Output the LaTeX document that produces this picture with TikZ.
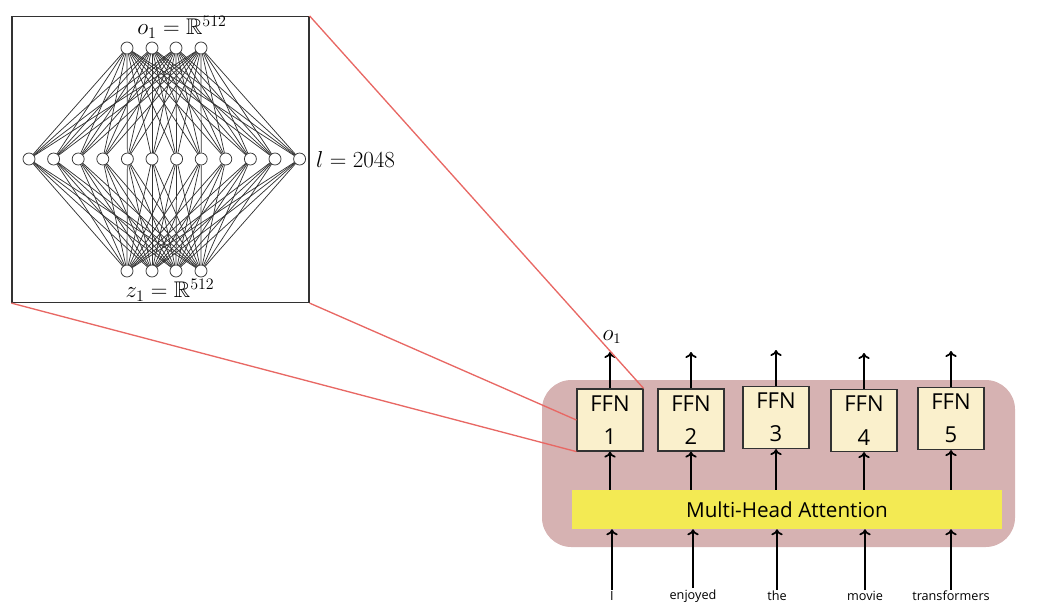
\documentclass[tikz,border=0pt]{standalone}
\usepackage{amssymb}
\usepackage{fontspec}
\setsansfont{Open Sans}
\usetikzlibrary{arrows.meta,positioning}
\definecolor{layerpink}{RGB}{214,178,178}
\definecolor{ffncream}{RGB}{250,240,204}
\definecolor{attnyellow}{RGB}{243,234,83}
\definecolor{zoomred}{RGB}{232,104,100}
\definecolor{netgray}{RGB}{50,50,50}

\begin{document}
\begin{tikzpicture}[x=0.75pt,y=-0.75pt,
    neuron/.style={circle,draw=netgray,fill=white,minimum size=9pt,inner sep=0pt,line width=0.55pt},
    edge/.style={draw=netgray,line width=0.55pt},
    zoombox/.style={rectangle,draw=netgray,line width=0.9pt,minimum width=222.75pt,minimum height=214.5pt},
    ffn/.style={rectangle,draw=netgray,fill=ffncream,line width=0.9pt,minimum width=49.5pt,
      minimum height=46.5pt,align=center,inner sep=0pt,font=\sffamily\fontsize{16.5}{25}\selectfont},
    word/.style={font=\sffamily\fontsize{9.5}{11}\selectfont,inner sep=1pt},
    mathlbl/.style={font=\fontsize{17}{20}\selectfont,inner sep=1pt},
    arrow/.style={-{To[length=4.5pt,width=8.5pt]},line width=1.3pt},
    zoomline/.style={draw=zoomred,line width=1pt}]
  \useasboundingbox (0,0) rectangle (1056,612);

  % zoomed feed-forward network
  \node[zoombox] (zoom) at (160.5,159.5) {};
  \foreach \x [count=\k] in {127,152,176,201} {
    \node[neuron] (top\k) at (\x,48) {};
    \node[neuron] (bot\k) at (\x,271) {};
  }
  \foreach \k in {1,...,12}
    \node[neuron] (mid\k) at ({29+(\k-1)*24.6},159) {};
  \foreach \a in {1,...,4}
    \foreach \b in {1,...,12} {
      \draw[edge] (top\a) -- (mid\b);
      \draw[edge] (mid\b) -- (bot\a);
    }
  \node[mathlbl] (olbl) at (182,27) {$o_1=\mathbb{R}^{512}$};
  \node[mathlbl] (zlbl) at (170,290) {$z_1=\mathbb{R}^{512}$};
  \node[mathlbl,right=6.5pt of mid12] (llbl) {$l=2048$};

  % encoder layer
  \node[rectangle,rounded corners=22pt,fill=layerpink,minimum width=354.75pt,
    minimum height=125.25pt] (layer) at (778.5,463.5) {};
  \node[rectangle,fill=attnyellow,minimum width=322.5pt,minimum height=29.25pt,
    font=\sffamily\fontsize{15.5}{18}\selectfont] (mha) at (787,509.5) {Multi-Head Attention};
  \node[ffn] (ffn1) at (610,420) {FFN\\1};
  \node[ffn] (ffn2) at (691,420) {FFN\\2};
  \node[ffn] (ffn3) at (776,417.5) {FFN\\3};
  \node[ffn] (ffn4) at (864,420.5) {FFN\\4};
  \node[ffn] (ffn5) at (951,418.5) {FFN\\5};

  \node[word] (w1) at (612,596) {I};
  \node[word] (w2) at (693,596) {enjoyed};
  \node[word] (w3) at (777,596) {the};
  \node[word] (w4) at (865,596) {movie};
  \node[word] (w5) at (951,596) {transformers};

  \coordinate (out1) at (610,352);
  \coordinate (out2) at (691,352);
  \coordinate (out3) at (776,350);
  \coordinate (out4) at (864,353);
  \coordinate (out5) at (951,351);
  \node[mathlbl,font=\fontsize{16}{18}\selectfont] (o1) at (612,337) {$o_1$};

  \foreach \k in {1,...,5} {
    \draw[arrow] (ffn\k.north) -- (out\k);
    \draw[arrow] (mha.north -| ffn\k) -- (ffn\k.south);
    \draw[arrow] (w\k.north) -- (mha.south -| w\k);
  }

  % zoom lines
  \draw[zoomline] (zoom.north east) -- (ffn1.north east);
  \draw[zoomline] (zoom.south east) -- (ffn1.west);
  \draw[zoomline] (zoom.south west) -- (ffn1.south west);
\end{tikzpicture}
\end{document}
